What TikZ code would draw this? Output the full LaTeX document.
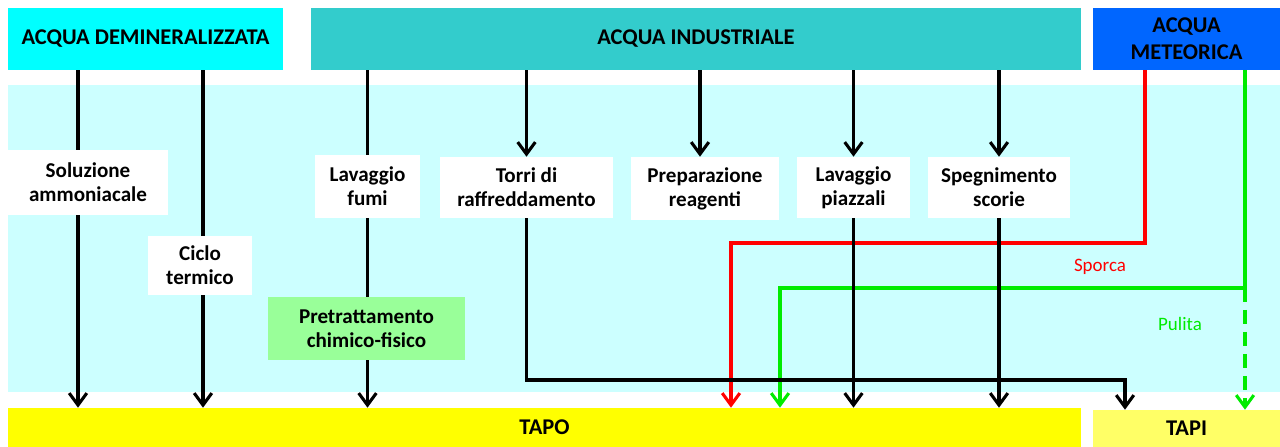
\documentclass[tikz,border=0pt]{standalone}
\usepackage{fontspec}
\setmainfont{Carlito}
\usetikzlibrary{arrows.meta}
\definecolor{demin}{RGB}{0,255,255}
\definecolor{indus}{RGB}{51,204,204}
\definecolor{meteo}{RGB}{0,102,255}
\definecolor{sfondo}{RGB}{204,255,255}
\definecolor{giallo}{RGB}{255,255,0}
\definecolor{giallino}{RGB}{255,255,102}
\definecolor{pretr}{RGB}{153,255,153}
\definecolor{rosso}{RGB}{255,0,0}
\definecolor{verde}{RGB}{0,235,0}
\tikzset{
  fonte/.style={fill=#1, inner sep=0pt, align=center, font=\bfseries\fontsize{16}{19}\selectfont},
  impianto/.style={fill=#1, inner sep=0pt, align=center, font=\bfseries\fontsize{15}{17}\selectfont},
  flusso/.style={line width=2.2pt, -{Straight Barb[length=3mm,width=4.4mm]}},
  tratto/.style={line width=2.2pt},
  nota/.style={font=\fontsize{13.5}{16}\selectfont}
}
% box from corner (#2,#3) to corner (#4,#5)
\newcommand{\blocco}[7]{\node[#6, minimum width={(#4-#2)*0.25mm}, minimum height={(#5-#3)*0.25mm}] (#1) at ({(#2+#4)/2},{(#3+#5)/2}) {#7};}
\begin{document}
\begin{tikzpicture}[x=0.25mm,y=-0.25mm]
\useasboundingbox (0,0) rectangle (1280,447);
\fill[sfondo] (8,85) rectangle (1280,392);
% sources
\blocco{dem}{8}{8}{283}{70}{fonte=demin}{ACQUA DEMINERALIZZATA}
\blocco{ind}{311}{8}{1081}{70}{fonte=indus}{ACQUA INDUSTRIALE}
\blocco{met}{1093}{8}{1280}{70}{fonte=meteo}{ACQUA\\METEORICA}
% users
\blocco{sol}{8}{150}{168}{215}{impianto=white}{Soluzione\\ammoniacale}
\blocco{cic}{148}{236}{252}{295}{impianto=white}{Ciclo\\termico}
\blocco{fum}{315}{155}{420}{218}{impianto=white}{Lavaggio\\fumi}
\blocco{tor}{440}{157}{613}{218}{impianto=white}{Torri di\\raffreddamento}
\blocco{rea}{631}{157}{779}{220}{impianto=white}{Preparazione\\reagenti}
\blocco{pia}{797}{157}{910}{218}{impianto=white}{Lavaggio\\piazzali}
\blocco{sco}{928}{157}{1070}{218}{impianto=white}{Spegnimento\\scorie}
\blocco{pre}{268}{297}{465}{360}{impianto=pretr}{Pretrattamento\\chimico-fisico}
% sinks
\blocco{tapo}{8}{408}{1081}{447}{fonte=giallo}{TAPO}
\blocco{tapi}{1093}{410}{1280}{447}{fonte=giallino}{TAPI}
\coordinate (amm) at (78,0);
\coordinate (ter) at (203,0);
\coordinate (reag) at (700,0);
\coordinate (sp1) at (1145,243);
\coordinate (sp2) at (731,243);
\coordinate (pu1) at (1245,288);
\coordinate (pu2) at (780,288);
\coordinate (giro) at (1125,380);
% rain water
\draw[flusso, rosso] (met.south -| sp1) -- (sp1) -- (sp2) -- (tapo.north -| sp2);
\draw[flusso, verde] (met.south -| pu1) -- (pu1) -- (pu2) -- (tapo.north -| pu2);
\draw[flusso, verde, dash pattern=on 3.5mm off 2mm] (pu1) -- (tapi.north -| pu1);
\node[nota, text=rosso] (sporca) at (1100,267) {Sporca};
\node[nota, text=verde] (pulita) at (1180,324) {Pulita};
% demineralised water
\draw[tratto] (dem.south -| amm) -- (sol.north -| amm);
\draw[flusso] (sol.south -| amm) -- (tapo.north -| amm);
\draw[tratto] (dem.south -| ter) -- (cic.north -| ter);
\draw[flusso] (cic.south -| ter) -- (tapo.north -| ter);
% industrial water
\draw[tratto] (ind.south -| fum) -- (fum.north);
\draw[tratto] (fum.south) -- (pre.north -| fum);
\draw[flusso] (pre.south -| fum) -- (tapo.north -| fum);
\draw[flusso] (ind.south -| tor) -- (tor.north);
\draw[flusso] (tor.south) |- (giro) -- (tapi.north -| giro);
\draw[flusso] (ind.south -| reag) -- (rea.north -| reag);
\draw[flusso] (ind.south -| pia) -- (pia.north);
\draw[flusso] (pia.south) -- (tapo.north -| pia);
\draw[flusso] (ind.south -| sco) -- (sco.north);
\draw[flusso] (sco.south) -- (tapo.north -| sco);
\end{tikzpicture}
\end{document}
